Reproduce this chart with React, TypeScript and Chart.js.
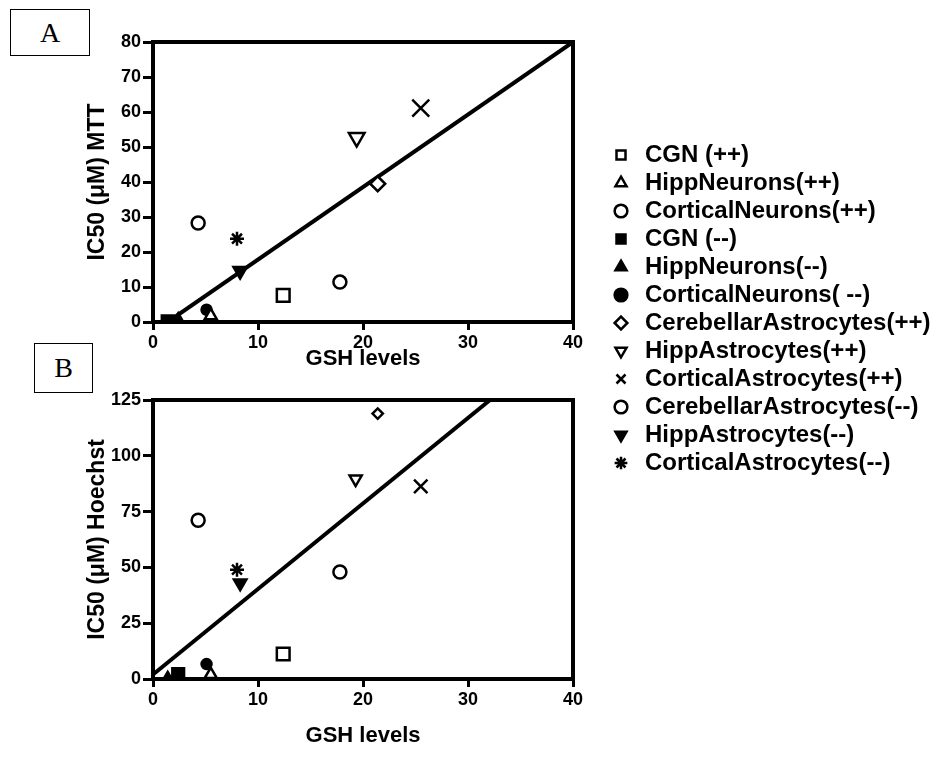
import React, { useEffect, useRef } from 'react';
import { Chart, registerables } from 'chart.js';
Chart.register(...registerables);

// ---- data ----
const seriesNames = [
  'CGN (++)',
  'HippNeurons(++)',
  'CorticalNeurons(++)',
  'CGN (--)',
  'HippNeurons(--)',
  'CorticalNeurons( --)',
  'CerebellarAstrocytes(++)',
  'HippAstrocytes(++)',
  'CorticalAstrocytes(++)',
  'CerebellarAstrocytes(--)',
  'HippAstrocytes(--)',
  'CorticalAstrocytes(--)',
];

// Panel A: GSH levels vs IC50 MTT
const gshA = [12.4, 5.5, 17.8, 1.4, 2.4, 5.1, 21.4, 19.4, 25.5, 4.3, 8.3, 8.0];
const mttIC50 = [7.6, 1.8, 11.4, 0.2, 0.8, 3.5, 39.5, 52.7, 61.1, 28.3, 14.6, 23.8];
// Panel B: GSH levels vs IC50 Hoechst
const gshB = [12.4, 5.5, 17.8, 2.4, 1.4, 5.1, 21.4, 19.3, 25.5, 4.3, 8.3, 8.0];
const hoechstIC50 = [11.2, 2.0, 47.9, 2.2, 0.5, 6.7, 118.9, 89.6, 86.3, 71.1, 43.0, 49.0];

// regression lines (end points)
const fitAx = [1.4, 40];
const fitAy = [0, 80];
const fitBx = [0, 32.1];
const fitBy = [2, 125];

// tick labels
const xTicks = [0, 10, 20, 30, 40];
const yTicksA = [0, 10, 20, 30, 40, 50, 60, 70, 80];
const yTicksB = [0, 25, 50, 75, 100, 125];

// ---- marker styles ----
const pointStyles = ['rect', 'triangle', 'circle', 'rect', 'triangle', 'circle', 'rectRot', 'triangle', 'crossRot', 'circle', 'triangle', 'star'];
const filled = [false, false, false, true, true, true, false, false, false, false, true, false];
const rotations = [0, 0, 0, 0, 0, 0, 0, 180, 0, 0, 180, 0];
const radiiA = [9, 7, 6.5, 8.3, 6, 5, 7.5, 9, 12, 6.5, 7.7, 7];
const radiiB = [9, 7, 6.5, 8.3, 6, 5, 5.2, 7, 9.5, 6.5, 7.2, 7];

const FONT = "'Liberation Sans', Arial, Helvetica, sans-serif";

function buildDatasets(xs: number[], ys: number[], radii: number[], fx: number[], fy: number[]) {
  const pts: any[] = seriesNames.map((name, i) => ({
    type: 'scatter',
    label: name,
    data: [{ x: xs[i], y: ys[i] }],
    pointStyle: pointStyles[i],
    rotation: rotations[i],
    pointRotation: rotations[i],
    pointRadius: radii[i],
    pointBorderWidth: 2.5,
    pointBackgroundColor: filled[i] ? '#000' : '#fff',
    pointBorderColor: '#000',
    backgroundColor: filled[i] ? '#000' : '#fff',
    borderColor: '#000',
    borderWidth: 2.5,
    xAxisID: 'x',
    yAxisID: 'y',
  }));
  pts.push({
    type: 'line',
    label: 'fit',
    data: fx.map((x, i) => ({ x, y: fy[i] })),
    borderColor: '#000',
    borderWidth: 4,
    pointRadius: 0,
    fill: false,
    showLine: true,
    xAxisID: 'x',
    yAxisID: 'y',
  });
  return pts;
}

function panelConfig(opts: {
  datasets: any[];
  yMax: number;
  yTicks: number[];
  yTitle: string;
  topH: number;
  bottomH: number;
  xTitlePad: number;
  canvasW: number;
}) {
  const frame = { display: true, width: 4, color: '#000' };
  return {
    type: 'scatter',
    data: { datasets: opts.datasets },
    options: {
      animation: false,
      responsive: false,
      layout: { padding: 0 },
      plugins: { legend: { display: false }, tooltip: { enabled: false } },
      scales: {
        x: {
          type: 'linear',
          position: 'bottom',
          min: 0,
          max: 40,
          afterBuildTicks: (s: any) => {
            s.ticks = xTicks.map((value) => ({ value }));
          },
          afterFit: (s: any) => {
            s.height = opts.bottomH;
          },
          grid: { display: true, drawOnChartArea: false, drawTicks: true, tickLength: 8, lineWidth: 3, color: '#000' },
          border: frame,
          ticks: { color: '#000', padding: 2, maxRotation: 0, autoSkip: false, font: { family: FONT, size: 18, weight: 'bold' } },
          title: {
            display: true,
            text: 'GSH levels',
            color: '#000',
            font: { family: FONT, size: 22, weight: 'bold' },
            padding: { top: 0, bottom: opts.xTitlePad },
          },
        },
        y: {
          type: 'linear',
          position: 'left',
          min: 0,
          max: opts.yMax,
          afterBuildTicks: (s: any) => {
            s.ticks = opts.yTicks.map((value) => ({ value }));
          },
          afterFit: (s: any) => {
            s.width = 153;
          },
          grid: { display: true, drawOnChartArea: false, drawTicks: true, tickLength: 10, lineWidth: 3, color: '#000' },
          border: frame,
          ticks: { color: '#000', padding: 2, autoSkip: false, font: { family: FONT, size: 18, weight: 'bold' } },
          title: {
            display: true,
            text: opts.yTitle,
            align: 'center',
            color: '#000',
            font: { family: FONT, size: 23, weight: 'bold' },
            padding: { top: 84, bottom: 0 },
          },
        },
        xTop: {
          type: 'linear',
          position: 'top',
          min: 0,
          max: 40,
          grid: { display: false },
          ticks: { display: false },
          border: frame,
          afterFit: (s: any) => {
            s.height = opts.topH;
          },
        },
        yRight: {
          type: 'linear',
          position: 'right',
          min: 0,
          max: opts.yMax,
          grid: { display: false },
          ticks: { display: false },
          border: frame,
          afterFit: (s: any) => {
            s.width = opts.canvasW - 573;
          },
        },
      },
    },
  };
}

export default function App() {
  const refA = useRef<HTMLCanvasElement>(null);
  const refB = useRef<HTMLCanvasElement>(null);
  const refL = useRef<HTMLCanvasElement>(null);

  useEffect(() => {
    document.body.style.margin = '0';
    Chart.defaults.font.family = FONT;
    const charts: Chart[] = [];
    charts.push(
      new Chart(
        refA.current!,
        panelConfig({
          datasets: buildDatasets(gshA, mttIC50, radiiA, fitAx, fitAy),
          yMax: 80,
          yTicks: yTicksA,
          yTitle: 'IC50 (\u03bcM) MTT',
          topH: 42,
          bottomH: 58,
          xTitlePad: 8,
          canvasW: 600,
        }) as any
      )
    );
    charts.push(
      new Chart(
        refB.current!,
        panelConfig({
          datasets: buildDatasets(gshB, hoechstIC50, radiiB, fitBx, fitBy),
          yMax: 125,
          yTicks: yTicksB,
          yTitle: 'IC50 (\u03bcM) Hoechst',
          topH: 20,
          bottomH: 96,
          xTitlePad: 26,
          canvasW: 600,
        }) as any
      )
    );
    charts.push(
      new Chart(refL.current!, {
        type: 'scatter',
        data: {
          datasets: seriesNames.map((name, i) => ({
            label: name,
            data: [],
            pointStyle: pointStyles[i] as any,
            pointRotation: rotations[i],
            rotation: rotations[i],
            backgroundColor: filled[i] ? '#000' : '#fff',
            borderColor: '#000',
            borderWidth: 2.5,
          })),
        },
        options: {
          animation: false,
          responsive: false,
          layout: { padding: 0 },
          scales: { x: { display: false }, y: { display: false } },
          plugins: {
            tooltip: { enabled: false },
            legend: {
              position: 'left',
              align: 'start',
              labels: {
                usePointStyle: true,
                boxWidth: 24,
                boxHeight: 9,
                padding: 4,
                color: '#000',
                font: { family: FONT, size: 24, weight: 'bold' },
              },
            },
          },
        } as any,
      })
    );
    return () => charts.forEach((c) => c.destroy());
  }, []);

  const boxStyle: React.CSSProperties = {
    position: 'absolute',
    border: '1px solid #000',
    boxSizing: 'border-box',
    background: '#fff',
    fontFamily: "'Liberation Serif', 'Times New Roman', serif",
    fontSize: 28,
    display: 'flex',
    alignItems: 'center',
    justifyContent: 'center',
    color: '#000',
  };

  return (
    <div style={{ position: 'relative', width: 936, height: 775, overflow: 'hidden', background: '#fff' }}>
      <canvas ref={refA} width={600} height={380} style={{ position: 'absolute', left: 0, top: 0, width: 600, height: 380 }} />
      <canvas ref={refB} width={600} height={395} style={{ position: 'absolute', left: 0, top: 380, width: 600, height: 395 }} />
      <canvas ref={refL} width={672} height={360} style={{ position: 'absolute', left: 605, top: 139, width: 672, height: 360 }} />
      <div style={{ ...boxStyle, left: 10, top: 9, width: 80, height: 47 }}>A</div>
      <div style={{ ...boxStyle, left: 34, top: 343, width: 59, height: 50 }}>B</div>
    </div>
  );
}
